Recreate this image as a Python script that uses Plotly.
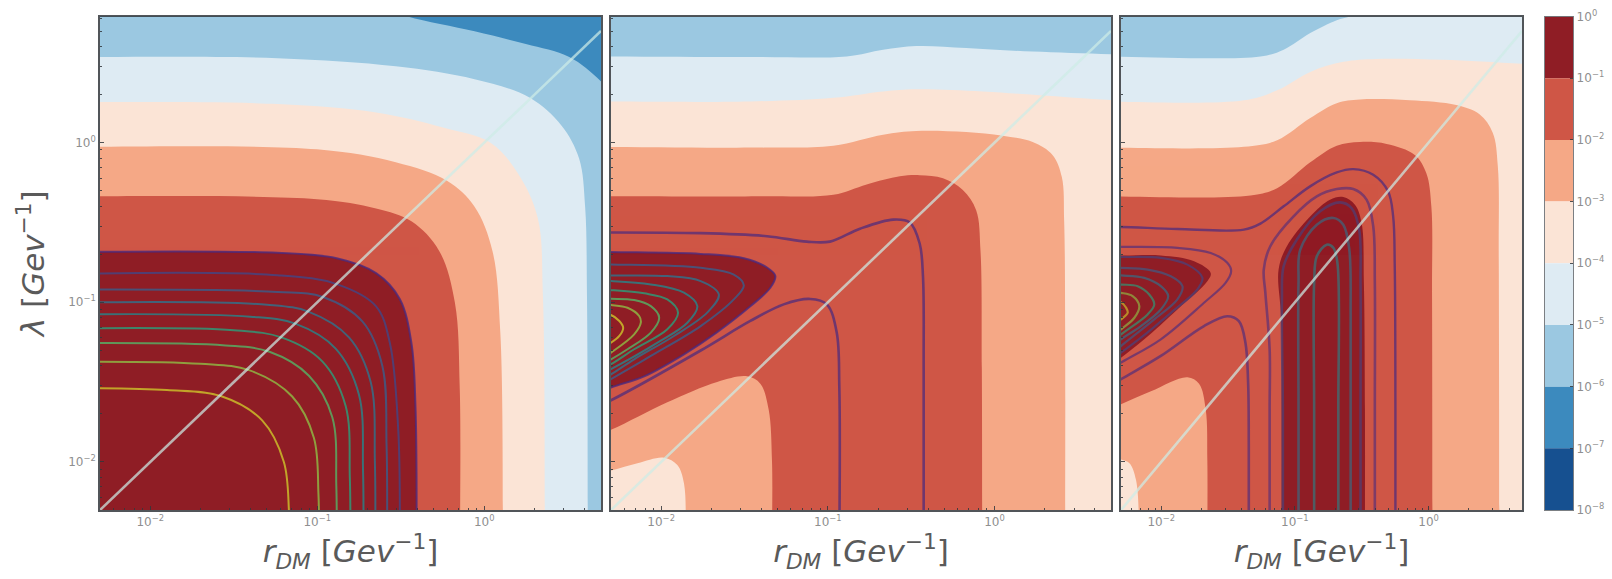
import plotly.graph_objects as go

# ---------- read-off data: contour curves as (log10 r_DM, log10 lambda) ----------
BAND_COLORS = ["#8f1d25", "#cf5646", "#f5a886", "#fbe4d6", "#deebf3", "#9bc8e1", "#3c8abe", "#165090"]
LINE_COLORS = ["#4b2a7e", "#424786", "#3a5f8c", "#2f748e", "#26878c", "#2aa07c", "#55b566", "#8fbf45", "#cfc62a"]
CBAR_EXPONENTS = [0, -1, -2, -3, -4, -5, -6, -7, -8]
XTICKS = [0.01, 0.1, 1]
XTICK_TEXT = ["10<sup>−2</sup>", "10<sup>−1</sup>", "10<sup>0</sup>"]
DIAGONAL = [0.005, 5]

# Panel 1
P1_B6 = [(-0.65, 0.86), (-0.459, 0.79), (-0.058, 0.697), (0.249, 0.617), (0.509, 0.536), (0.698, 0.385), (0.85, 0.2)]
P1_B5 = [(-2.5, 0.536), (-1.239, 0.529), (-0.53, 0.478), (-0.058, 0.397), (0.273, 0.281), (0.462, 0.108), (0.568, -0.10), (0.604, -0.401), (0.615, -0.956), (0.62, -2.5)]
P1_B4 = [(-2.5, 0.254), (-1.239, 0.242), (-0.648, 0.189), (-0.247, 0.095), (0.037, 0.0), (0.202, -0.193), (0.32, -0.47), (0.351, -0.956), (0.363, -2.5)]
P1_B3 = [(-2.5, -0.026), (-1.002, -0.042), (-0.53, -0.123), (-0.223, -0.239), (-0.058, -0.401), (0.049, -0.678), (0.096, -1.187), (0.112, -2.5)]
P1_B2 = [(-2.5, -0.336), (-1.002, -0.354), (-0.648, -0.412), (-0.436, -0.493), (-0.27, -0.678), (-0.176, -1.002), (-0.147, -1.534), (-0.145, -2.5)]
P1_B1 = [(-2.5, -0.685), (-1.239, -0.69), (-0.884, -0.724), (-0.648, -0.817), (-0.506, -0.979), (-0.436, -1.256), (-0.412, -1.649), (-0.405, -2.5)]
P1_C2 = [(-2.5, -0.822), (-1.239, -0.83), (-0.884, -0.886), (-0.648, -1.025), (-0.565, -1.256), (-0.515, -1.8), (-0.506, -2.5)]
P1_C3 = [(-2.5, -0.921), (-1.239, -0.935), (-0.967, -0.967), (-0.73, -1.12), (-0.61, -1.4), (-0.585, -1.9), (-0.582, -2.5)]
P1_C4 = [(-2.5, -1.002), (-1.3, -1.015), (-1.05, -1.06), (-0.81, -1.22), (-0.68, -1.5), (-0.655, -2.0), (-0.653, -2.5)]
P1_C5 = [(-2.5, -1.076), (-1.4, -1.09), (-1.132, -1.134), (-0.89, -1.29), (-0.75, -1.58), (-0.726, -2.05), (-0.724, -2.5)]
P1_C6 = [(-2.5, -1.164), (-1.5, -1.175), (-1.215, -1.22), (-0.97, -1.37), (-0.83, -1.65), (-0.805, -2.1), (-0.802, -2.5)]
P1_C7 = [(-2.5, -1.256), (-1.55, -1.27), (-1.286, -1.31), (-1.05, -1.46), (-0.91, -1.72), (-0.886, -2.15), (-0.884, -2.5)]
P1_C8 = [(-2.5, -1.372), (-1.7, -1.385), (-1.409, -1.425), (-1.15, -1.59), (-1.02, -1.85), (-0.993, -2.2), (-0.99, -2.5)]
P1_C9 = [(-2.5, -1.538), (-1.9, -1.55), (-1.57, -1.59), (-1.33, -1.74), (-1.2, -2.0), (-1.17, -2.3), (-1.168, -2.5)]

# Panel 2
P2_B5 = [(-2.5, 0.54), (-1.465, 0.536), (-0.887, 0.54), (-0.668, 0.582), (-0.469, 0.605), (-0.17, 0.593), (0.229, 0.57), (0.85, 0.55)]
P2_B4 = [(-2.5, 0.258), (-1.465, 0.258), (-0.967, 0.281), (-0.668, 0.321), (-0.469, 0.334), (-0.07, 0.321), (0.269, 0.297), (0.85, 0.26)]
P2_B3 = [(-2.5, -0.026), (-1.365, -0.031), (-0.967, -0.019), (-0.668, 0.05), (-0.469, 0.073), (-0.17, 0.066), (0.049, 0.043), (0.229, 0.004), (0.348, -0.077), (0.404, -0.216), (0.418, -0.493), (0.424, -1.187), (0.424, -2.5)]
P2_B2 = [(-2.5, -0.336), (-1.365, -0.336), (-0.967, -0.327), (-0.767, -0.262), (-0.568, -0.211), (-0.449, -0.204), (-0.309, -0.223), (-0.19, -0.297), (-0.11, -0.424), (-0.084, -0.678), (-0.076, -1.418), (-0.074, -2.5)]
P2_ISLAND3 = [(-2.5, -1.88), (-2.301, -1.799), (-1.963, -1.626), (-1.664, -1.499), (-1.484, -1.464), (-1.405, -1.51), (-1.355, -1.672), (-1.335, -1.996), (-1.335, -2.5)]
P2_ISLAND4 = [(-2.5, -2.1), (-2.301, -2.054), (-2.142, -2.008), (-1.983, -1.973), (-1.903, -2.019), (-1.863, -2.135), (-1.853, -2.5)]
P2_DROP = [(-2.5, -0.68), (-2.301, -0.685), (-1.763, -0.697), (-1.504, -0.724), (-1.365, -0.782), (-1.315, -0.835), (-1.345, -0.909), (-1.465, -1.025), (-1.664, -1.187), (-1.863, -1.326), (-2.102, -1.464), (-2.301, -1.534), (-2.5, -1.62)]
P2_L2 = [(-2.4, -0.76), (-2.301, -0.763), (-1.763, -0.784), (-1.564, -0.826), (-1.504, -0.894), (-1.564, -0.982), (-1.763, -1.149), (-2.062, -1.336), (-2.301, -1.482), (-2.4, -1.54)]
P2_L3 = [(-2.4, -0.83), (-2.301, -0.832), (-1.963, -0.836), (-1.763, -0.867), (-1.654, -0.951), (-1.724, -1.065), (-1.923, -1.211), (-2.162, -1.357), (-2.301, -1.451), (-2.4, -1.51)]
P2_L4 = [(-2.4, -0.865), (-2.301, -0.867), (-2.062, -0.888), (-1.863, -0.94), (-1.783, -1.024), (-1.843, -1.128), (-2.022, -1.253), (-2.301, -1.419), (-2.4, -1.47)]
P2_L5 = [(-2.4, -0.92), (-2.301, -0.924), (-2.102, -0.944), (-1.963, -0.982), (-1.899, -1.065), (-1.963, -1.169), (-2.162, -1.294), (-2.301, -1.388), (-2.4, -1.44)]
P2_L6 = [(-2.4, -0.975), (-2.301, -0.978), (-2.162, -0.986), (-2.062, -1.024), (-2.012, -1.096), (-2.062, -1.19), (-2.202, -1.294), (-2.301, -1.357), (-2.4, -1.41)]
P2_L7 = [(-2.4, -1.01), (-2.301, -1.017), (-2.202, -1.034), (-2.132, -1.086), (-2.122, -1.128), (-2.162, -1.201), (-2.301, -1.315), (-2.4, -1.38)]
P2_L8 = [(-2.4, -1.07), (-2.301, -1.08), (-2.251, -1.117), (-2.228, -1.159), (-2.251, -1.211), (-2.301, -1.253), (-2.4, -1.3)]
P2_UPPER = [(-2.5, -0.563), (-1.763, -0.567), (-1.365, -0.586), (-1.126, -0.62), (-0.987, -0.62), (-0.807, -0.539), (-0.608, -0.482), (-0.508, -0.5), (-0.449, -0.632), (-0.429, -0.84), (-0.425, -1.418), (-0.425, -2.5)]
P2_LOWER = [(-2.5, -1.71), (-2.301, -1.614), (-1.763, -1.302), (-1.465, -1.117), (-1.265, -1.013), (-1.106, -0.979), (-1.006, -1.013), (-0.947, -1.187), (-0.931, -1.534), (-0.931, -2.5)]

# Panel 3
P3_B5 = [(-2.5, 0.54), (-1.258, 0.54), (-1.084, 0.582), (-0.885, 0.686), (-0.687, 0.767), (-0.587, 0.79), (-0.389, 0.85), (0.85, 0.95)]
P3_B4 = [(-2.5, 0.258), (-1.382, 0.265), (-1.133, 0.328), (-0.885, 0.443), (-0.637, 0.506), (-0.389, 0.524), (0.108, 0.519), (0.85, 0.49)]
P3_B3 = [(-2.5, -0.031), (-1.382, -0.026), (-1.133, 0.015), (-0.885, 0.154), (-0.687, 0.247), (-0.513, 0.27), (-0.14, 0.265), (0.207, 0.235), (0.381, 0.177), (0.48, 0.062), (0.518, -0.146), (0.525, -0.724), (0.53, -2.5)]
P3_B2 = [(-2.5, -0.336), (-1.332, -0.331), (-1.133, -0.285), (-0.885, -0.123), (-0.687, -0.019), (-0.513, 0.004), (-0.314, -0.008), (-0.103, -0.077), (-0.016, -0.193), (0.021, -0.401), (0.026, -0.956), (0.029, -2.5)]
P3_ISLAND3 = [(-2.5, -1.72), (-2.301, -1.638), (-2.077, -1.557), (-1.804, -1.469), (-1.717, -1.51), (-1.667, -1.672), (-1.655, -1.996), (-1.655, -2.5)]
P3_ISLAND4 = [(-2.5, -1.96), (-2.301, -1.984), (-2.238, -2.008), (-2.189, -2.112), (-2.164, -2.5)]
P3_DROP = [(-2.5, -0.70), (-2.301, -0.707), (-2.003, -0.707), (-1.754, -0.743), (-1.63, -0.816), (-1.655, -0.868), (-1.879, -1.045), (-2.127, -1.232), (-2.301, -1.347), (-2.5, -1.47)]
P3_BLOB = [(-1.10, -2.5), (-1.10, -1.67), (-1.104, -1.087), (-1.122, -0.795), (-1.06, -0.649), (-0.886, -0.462), (-0.737, -0.357), (-0.638, -0.341), (-0.551, -0.389), (-0.501, -0.503), (-0.484, -0.878), (-0.476, -1.67), (-0.476, -2.5)]
P3_UPPER = [(-2.5, -0.528), (-2.301, -0.528), (-1.879, -0.541), (-1.382, -0.545), (-1.258, -0.507), (-1.084, -0.399), (-0.886, -0.274), (-0.687, -0.187), (-0.563, -0.166), (-0.414, -0.201), (-0.303, -0.305), (-0.265, -0.462), (-0.253, -0.774), (-0.248, -1.67), (-0.248, -2.5)]
P3_LOWER = [(-2.5, -1.58), (-2.301, -1.482), (-2.003, -1.336), (-1.68, -1.149), (-1.506, -1.087), (-1.419, -1.118), (-1.37, -1.253), (-1.35, -1.503), (-1.345, -1.9), (-1.345, -2.5)]
P3_L0 = [(-2.5, -0.65), (-2.301, -0.653), (-1.879, -0.659), (-1.63, -0.691), (-1.506, -0.753), (-1.477, -0.805), (-1.519, -0.878), (-1.68, -1.003), (-2.003, -1.232), (-2.301, -1.378), (-2.5, -1.48)]
P3_L1 = [(-2.5, -0.71), (-2.301, -0.716), (-2.003, -0.722), (-1.804, -0.764), (-1.692, -0.847), (-1.73, -0.92), (-1.928, -1.066), (-2.152, -1.222), (-2.301, -1.316), (-2.5, -1.44)]
P3_L2 = [(-2.5, -0.78), (-2.301, -0.784), (-2.102, -0.795), (-1.928, -0.837), (-1.841, -0.899), (-1.879, -0.982), (-2.052, -1.107), (-2.301, -1.274), (-2.5, -1.41)]
P3_L3 = [(-2.5, -0.825), (-2.301, -0.832), (-2.127, -0.847), (-2.003, -0.899), (-1.948, -0.961), (-2.003, -1.045), (-2.152, -1.149), (-2.301, -1.232), (-2.5, -1.36)]
P3_L4 = [(-2.5, -0.88), (-2.301, -0.889), (-2.176, -0.899), (-2.09, -0.951), (-2.052, -1.014), (-2.102, -1.076), (-2.301, -1.201), (-2.5, -1.33)]
P3_L5 = [(-2.5, -0.93), (-2.301, -0.941), (-2.214, -0.961), (-2.164, -1.024), (-2.201, -1.097), (-2.301, -1.17), (-2.5, -1.3)]
P3_L6 = [(-2.5, -0.98), (-2.301, -0.999), (-2.263, -1.034), (-2.251, -1.066), (-2.301, -1.107), (-2.5, -1.2)]
P3_VA = [(-1.189, -2.5), (-1.189, -1.67), (-1.189, -1.295), (-1.221, -0.941), (-1.233, -0.795), (-1.184, -0.649), (-1.01, -0.462), (-0.836, -0.337), (-0.687, -0.291), (-0.563, -0.291), (-0.464, -0.357), (-0.414, -0.524), (-0.402, -0.878), (-0.402, -1.67), (-0.402, -2.5)]
P3_VB = [(-1.09, -2.5), (-1.09, -1.67), (-1.097, -0.982), (-1.084, -0.774), (-0.985, -0.607), (-0.811, -0.43), (-0.662, -0.374), (-0.576, -0.41), (-0.519, -0.545), (-0.509, -0.878), (-0.509, -1.67), (-0.509, -2.5)]
P3_VC = [(-0.973, -2.5), (-0.973, -1.67), (-0.973, -0.878), (-0.96, -0.67), (-0.836, -0.514), (-0.712, -0.472), (-0.638, -0.514), (-0.593, -0.67), (-0.583, -1.087), (-0.583, -1.67), (-0.583, -2.5)]
P3_VD = [(-0.856, -2.5), (-0.856, -1.67), (-0.856, -0.878), (-0.836, -0.712), (-0.762, -0.639), (-0.712, -0.659), (-0.682, -0.753), (-0.675, -1.67), (-0.675, -2.5)]

# ---------- drawing ----------
W, H = 1612, 579
TOP, BOTTOM = 16.5, 510
PANELS = [(100, 601), (611, 1111), (1121, 1522)]
CBAR = (1545, 1573)
LOGX_RANGE = [-2.301, 0.699]
LOGY_RANGE = [-2.301, 0.79]
FAR = -3.0
FAR_HI = 1.3

fig = go.Figure()


def unlog(values):
    return [10 ** v for v in values]


def region(pts, color, n, close):
    if close == "left_bottom":
        poly = [(FAR, pts[0][1])] + pts + [(pts[-1][0], FAR), (FAR, FAR)]
    elif close == "left_right":
        poly = [(FAR, pts[0][1])] + pts + [(FAR_HI, pts[-1][1]), (FAR_HI, FAR), (FAR, FAR)]
    elif close == "left_left":
        poly = [(FAR, pts[0][1])] + pts + [(FAR, pts[-1][1])]
    elif close == "top_right":
        poly = [(FAR, FAR_HI), (pts[0][0], FAR_HI)] + pts + [(FAR_HI, pts[-1][1]), (FAR_HI, FAR), (FAR, FAR)]
    else:  # bottom_bottom
        poly = [(pts[0][0], FAR)] + pts + [(pts[-1][0], FAR)]
    fig.add_trace(go.Scatter(
        x=unlog([p[0] for p in poly]), y=unlog([p[1] for p in poly]),
        mode="lines", fill="toself", fillcolor=color,
        line=dict(width=0, shape="spline", smoothing=1, color=color),
        hoverinfo="skip", showlegend=False, xaxis=f"x{n}", yaxis=f"y{n}"))


def base(color, n):
    fig.add_trace(go.Scatter(
        x=unlog([FAR, FAR_HI, FAR_HI, FAR]), y=unlog([FAR, FAR, FAR_HI, FAR_HI]),
        mode="lines", fill="toself", fillcolor=color, line=dict(width=0),
        hoverinfo="skip", showlegend=False, xaxis=f"x{n}", yaxis=f"y{n}"))


def contour(pts, color, n, width, opacity):
    fig.add_trace(go.Scatter(
        x=unlog([p[0] for p in pts]), y=unlog([p[1] for p in pts]),
        mode="lines", opacity=opacity,
        line=dict(color=color, width=width, shape="spline", smoothing=1),
        hoverinfo="skip", showlegend=False, xaxis=f"x{n}", yaxis=f"y{n}"))


# Panel 1 bands and lines
base(BAND_COLORS[6], 1)
region(P1_B6, BAND_COLORS[5], 1, "top_right")
region(P1_B5, BAND_COLORS[4], 1, "left_bottom")
region(P1_B4, BAND_COLORS[3], 1, "left_bottom")
region(P1_B3, BAND_COLORS[2], 1, "left_bottom")
region(P1_B2, BAND_COLORS[1], 1, "left_bottom")
region(P1_B1, BAND_COLORS[0], 1, "left_bottom")
for i, c in enumerate([P1_B1, P1_C2, P1_C3, P1_C4, P1_C5, P1_C6, P1_C7, P1_C8, P1_C9]):
    contour(c, LINE_COLORS[i], 1, 2.0, 0.8)

# Panel 2
base(BAND_COLORS[5], 2)
region(P2_B5, BAND_COLORS[4], 2, "left_right")
region(P2_B4, BAND_COLORS[3], 2, "left_right")
region(P2_B3, BAND_COLORS[2], 2, "left_bottom")
region(P2_B2, BAND_COLORS[1], 2, "left_bottom")
region(P2_ISLAND3, BAND_COLORS[2], 2, "left_bottom")
region(P2_ISLAND4, BAND_COLORS[3], 2, "left_bottom")
region(P2_DROP, BAND_COLORS[0], 2, "left_left")
contour(P2_UPPER, LINE_COLORS[0], 2, 2.6, 0.72)
contour(P2_LOWER, LINE_COLORS[0], 2, 2.6, 0.72)
for i, c in enumerate([P2_DROP, P2_L2, P2_L3, P2_L4, P2_L5, P2_L6, P2_L7, P2_L8]):
    contour(c, LINE_COLORS[min(i + 1, 8)] if i else LINE_COLORS[0], 2, 2.0, 0.8)

# Panel 3
base(BAND_COLORS[5], 3)
region(P3_B5, BAND_COLORS[4], 3, "left_right")
region(P3_B4, BAND_COLORS[3], 3, "left_right")
region(P3_B3, BAND_COLORS[2], 3, "left_bottom")
region(P3_B2, BAND_COLORS[1], 3, "left_bottom")
region(P3_ISLAND3, BAND_COLORS[2], 3, "left_bottom")
region(P3_ISLAND4, BAND_COLORS[3], 3, "left_bottom")
region(P3_DROP, BAND_COLORS[0], 3, "left_left")
region(P3_BLOB, BAND_COLORS[0], 3, "bottom_bottom")
contour(P3_UPPER, LINE_COLORS[0], 3, 2.4, 0.72)
contour(P3_LOWER, LINE_COLORS[0], 3, 2.6, 0.65)
for c, col in [(P3_L0, 0), (P3_L1, 1), (P3_L2, 2), (P3_L3, 3), (P3_L4, 5), (P3_L5, 7), (P3_L6, 8)]:
    contour(c, LINE_COLORS[col], 3, 2.2, 0.65)
for c, col in [(P3_VA, 0), (P3_VB, 1), (P3_VC, 3), (P3_VD, 4)]:
    contour(c, LINE_COLORS[col], 3, 2.6, 0.6)

# Diagonal r_DM = lambda in every panel
for n in (1, 2, 3):
    fig.add_trace(go.Scatter(x=DIAGONAL, y=DIAGONAL, mode="lines",
                             line=dict(color="rgba(205,235,230,0.72)", width=2.6),
                             hoverinfo="skip", showlegend=False, xaxis=f"x{n}", yaxis=f"y{n}"))

# Colour bar as stacked bars
fig.add_trace(go.Bar(x=[0.5] * 8, y=[1] * 8, base=CBAR_EXPONENTS[1:], width=1,
                     marker=dict(color=BAND_COLORS, line=dict(width=0)),
                     hoverinfo="skip", showlegend=False, xaxis="x4", yaxis="y4"))

MINOR = [m * 10 ** e for e in (-3, -2, -1, 0) for m in range(2, 10)]
LINE = "rgba(50,55,60,0.85)"
TICKFONT = dict(family="DejaVu Sans", size=12, color="#8f8f8f")
TITLEFONT = dict(family="DejaVu Sans", size=31, color="#5a5a5a")
ydomain = [1 - BOTTOM / H, 1 - TOP / H]
layout = dict(width=W, height=H, margin=dict(l=0, r=0, t=0, b=0), autosize=False, template="none",
              paper_bgcolor="white", plot_bgcolor="white", showlegend=False, barmode="overlay")
for n, (a, b) in enumerate(PANELS, start=1):
    xname = "xaxis" if n == 1 else f"xaxis{n}"
    yname = "yaxis" if n == 1 else f"yaxis{n}"
    layout[xname] = dict(
        type="log", range=LOGX_RANGE, domain=[a / W, b / W], anchor=f"y{n}" if n > 1 else "y", automargin=False,
        tickmode="array", tickvals=XTICKS, ticktext=XTICK_TEXT, tickfont=TICKFONT,
        ticks="inside", ticklen=4, tickwidth=1, tickcolor=LINE,
        minor=dict(ticks="inside", ticklen=2, tickwidth=1, tickcolor=LINE, tickvals=MINOR),
        showgrid=False, zeroline=False, showline=True, mirror=True, linecolor=LINE, linewidth=1.6,
        title=dict(text="<i>r</i><sub><i>DM</i></sub> [<i>Gev</i><sup>−1</sup>]", font=TITLEFONT, standoff=4))
    layout[yname] = dict(
        type="log", range=LOGY_RANGE, domain=ydomain, anchor=f"x{n}" if n > 1 else "x", automargin=False,
        tickmode="array", tickvals=XTICKS, ticktext=XTICK_TEXT if n == 1 else ["", "", ""], tickfont=TICKFONT,
        ticks="inside", ticklen=4, tickwidth=1, tickcolor=LINE,
        minor=dict(ticks="inside", ticklen=2, tickwidth=1, tickcolor=LINE, tickvals=MINOR),
        showgrid=False, zeroline=False, showline=True, mirror=True, linecolor=LINE, linewidth=1.6)
layout["yaxis"]["title"] = dict(text="<i>λ</i> [<i>Gev</i><sup>−1</sup>]", font=TITLEFONT, standoff=14)
layout["xaxis4"] = dict(range=[0, 1], domain=[CBAR[0] / W, CBAR[1] / W], anchor="y4", automargin=False,
                        showticklabels=False, ticks="", showgrid=False, zeroline=False,
                        showline=True, mirror=True, linecolor="rgba(90,95,100,0.8)", linewidth=1.4)
layout["yaxis4"] = dict(range=[-8, 0], domain=ydomain, anchor="x4", side="right", automargin=False,
                        tickmode="array", tickvals=CBAR_EXPONENTS,
                        ticktext=["10<sup>0</sup>"] + [f"10<sup>−{-e}</sup>" for e in CBAR_EXPONENTS[1:]],
                        tickfont=TICKFONT, ticks="inside", ticklen=3, tickcolor=LINE,
                        showgrid=False, zeroline=False,
                        showline=True, mirror=True, linecolor="rgba(90,95,100,0.8)", linewidth=1.4)
fig.update_layout(**layout)
fig.write_html("out.html", config=dict(displayModeBar=False), post_script="document.body.style.margin='0';")
